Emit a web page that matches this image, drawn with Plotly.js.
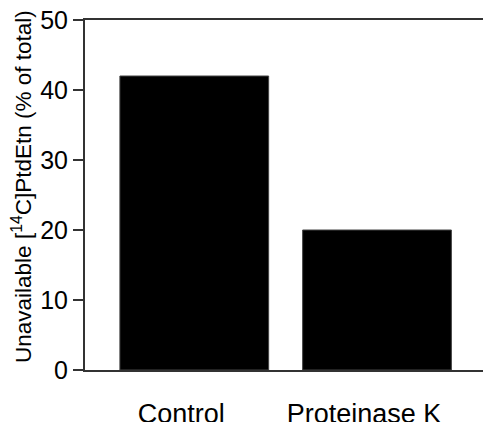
<!DOCTYPE html>
<html>
<head>
<meta charset="utf-8">
<script src="https://cdn.plot.ly/plotly-3.0.1.min.js"></script>
<style>html,body{margin:0;padding:0;background:#fff;}#chart{width:483px;height:422px;}</style>
</head>
<body>
<div id="chart"></div>
<script>
var categories = ["Control", "Proteinase K"];
var values = [42, 20];
var yTicks = [0, 10, 20, 30, 40, 50];
var yTitle = "Unavailable [<sup>14</sup>C]PtdEtn (% of total)";

var font = "Liberation Sans, Arial, Helvetica, sans-serif";
var trace = {
  type: "bar",
  x: categories,
  y: values,
  marker: {color: "#000", line: {color: "#444", width: 1}},
  hoverinfo: "none"
};
var layout = {
  width: 483, height: 422,
  margin: {l: 85, r: 0, t: 20, b: 52},
  paper_bgcolor: "#fff", plot_bgcolor: "#fff",
  bargap: 0.186,
  showlegend: false,
  font: {family: font, color: "#000"},
  xaxis: {
    range: [-0.598, 1.58],
    showline: true, linecolor: "#333", linewidth: 2, mirror: true,
    showgrid: false, zeroline: false, ticks: "",
    tickfont: {size: 27, family: font, color: "#000"},
    ticklabelstandoff: 19, ticklabelshift: -13
  },
  yaxis: {
    range: [0, 50],
    tickvals: yTicks, ticktext: yTicks.map(String),
    showline: true, linecolor: "#333", linewidth: 2,
    showgrid: false, zeroline: false,
    ticks: "outside", ticklen: 10, tickwidth: 1.5, tickcolor: "#333",
    tickfont: {size: 25, family: font, color: "#000"}
  },
  annotations: [{
    text: yTitle, textangle: -90,
    xref: "paper", yref: "paper", x: 0, y: 0.523,
    xanchor: "center", yanchor: "middle", xshift: -63,
    showarrow: false,
    font: {size: 22.5, family: font, color: "#000"}
  }]
};
Plotly.newPlot("chart", [trace], layout, {staticPlot: true, displayModeBar: false});
</script>
</body>
</html>
